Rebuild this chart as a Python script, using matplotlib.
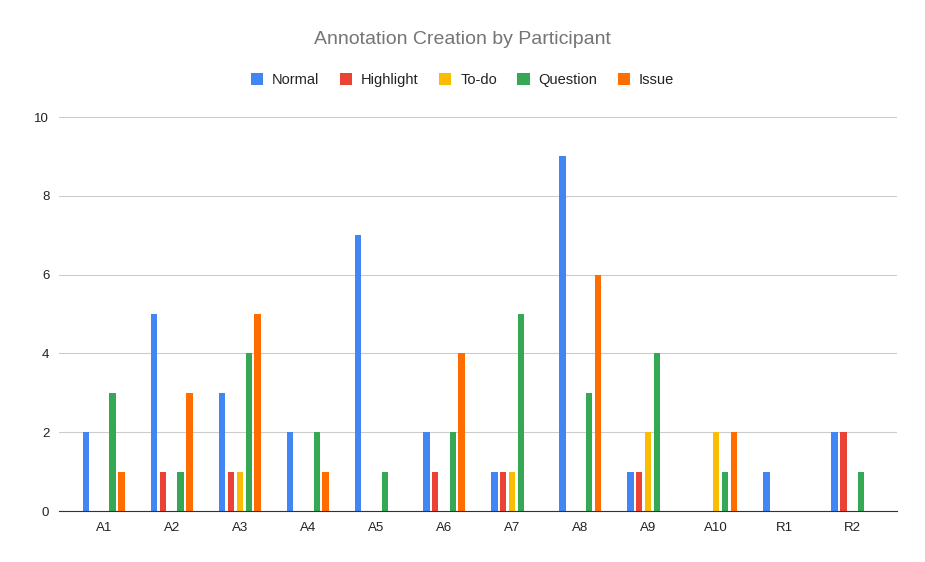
import numpy as np
import matplotlib.pyplot as plt

participants = ['A1', 'A2', 'A3', 'A4', 'A5', 'A6', 'A7', 'A8', 'A9', 'A10', 'R1', 'R2']
series = ['Normal', 'Highlight', 'To-do', 'Question', 'Issue']
normal = [2, 5, 3, 2, 7, 2, 1, 9, 1, 0, 1, 2]
highlight = [0, 1, 1, 0, 0, 1, 1, 0, 1, 0, 0, 2]
todo = [0, 0, 1, 0, 0, 0, 1, 0, 2, 2, 0, 0]
question = [3, 1, 4, 2, 1, 2, 5, 3, 4, 1, 0, 1]
issue = [1, 3, 5, 1, 0, 4, 0, 6, 0, 2, 0, 0]
colors = ['#4285F4', '#EA4335', '#FBBC04', '#34A853', '#FF6D01']

plt.rcParams['font.family'] = ['Liberation Sans', 'DejaVu Sans']

fig = plt.figure(figsize=(9.25, 5.62), dpi=100)
ax = fig.add_axes([59/925, 1-511/562, (897-59)/925, (511-117)/562])

x = np.arange(len(participants))
step = 0.131
width = 0.098
for i, (name, vals) in enumerate(zip(series, [normal, highlight, todo, question, issue])):
    ax.bar(x + (i - 2) * step, vals, width, color=colors[i], label=name, zorder=3)

ax.set_xlim(-0.66, 11.66)
ax.set_ylim(0, 10)
ax.set_yticks([0, 2, 4, 6, 8, 10])
ax.set_xticks(x)
ax.set_xticklabels(participants)
ax.grid(axis='y', color='#cccccc', linewidth=0.8, zorder=0)
for s in ['top', 'right', 'left']:
    ax.spines[s].set_visible(False)
ax.spines['bottom'].set_color('#333333')
ax.spines['bottom'].set_zorder(4)
ax.tick_params(axis='both', length=0, labelsize=9.5, labelcolor='#222222')
ax.tick_params(axis='y', pad=7)
ax.tick_params(axis='x', pad=8)

fig.text(0.5, 1-40/562, 'Annotation Creation by Participant', ha='center', va='center',
         fontsize=14, color='#757575')
fig.legend(loc='center', bbox_to_anchor=(0.5, 1-80/562), ncol=5, frameon=False,
           fontsize=10.5, handlelength=0.85, handleheight=0.85, handletextpad=0.6,
           columnspacing=1.4, labelcolor='#222222')

fig.savefig('out.png', dpi=100)
